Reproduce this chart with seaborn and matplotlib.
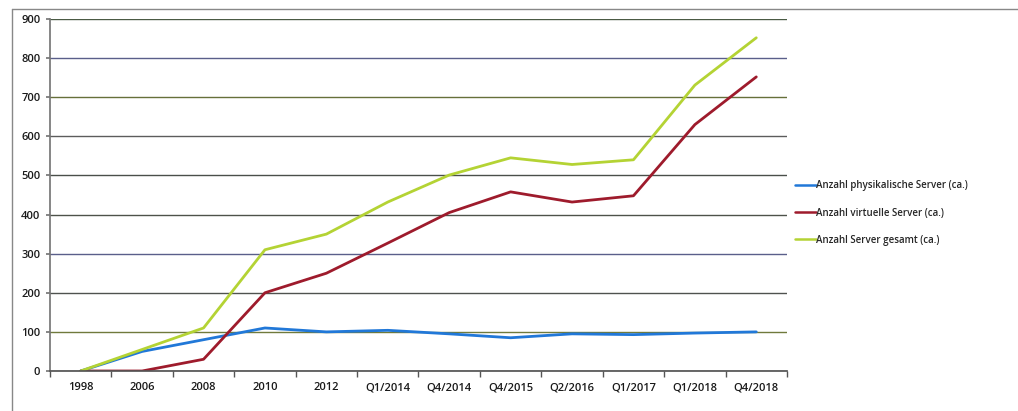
import matplotlib
matplotlib.use("Agg")
import matplotlib.pyplot as plt
from matplotlib.lines import Line2D
import seaborn as sns
import pandas as pd

periods = ["1998", "2006", "2008", "2010", "2012", "Q1/2014", "Q4/2014",
           "Q4/2015", "Q2/2016", "Q1/2017", "Q1/2018", "Q4/2018"]
physical = [0, 50, 80, 110, 100, 104, 95, 85, 95, 93, 97, 100]
virtual = [0, 0, 30, 200, 250, 327, 405, 458, 432, 448, 630, 752]
total = [0, 55, 110, 310, 350, 432, 501, 545, 528, 540, 731, 852]

series_names = ["Anzahl physikalische Server (ca.)",
                "Anzahl virtuelle Server (ca.)",
                "Anzahl Server gesamt (ca.)"]
series_colors = ["#2178d8", "#9e1b2c", "#b4d334"]

df = pd.concat([
    pd.DataFrame({"Zeitpunkt": periods, "Anzahl": vals, "Reihe": name})
    for name, vals in zip(series_names, [physical, virtual, total])
], ignore_index=True)

sns.set_theme(style="white")
plt.rcParams["font.family"] = ["Open Sans", "DejaVu Sans"]

fig = plt.figure(figsize=(10.18, 4.11), dpi=100)
ax = fig.add_axes([50 / 1018, 40 / 411, 737 / 1018, 352 / 411])

sns.lineplot(data=df, x="Zeitpunkt", y="Anzahl", hue="Reihe",
             palette=dict(zip(series_names, series_colors)),
             linewidth=2.0, sort=False, legend=False, ax=ax)

ax.set_xlim(-0.5, len(periods) - 0.5)
ax.set_ylim(0, 900)
ax.set_yticks(range(0, 901, 100))
ax.set_xlabel("")
ax.set_ylabel("")

# horizontal gridlines in slightly varying tones
grid_tones = ["#4a5a44", "#5a5f8a", "#66703a", "#5c5c5c", "#4a4f4a",
              "#4d524a", "#5a5f8a", "#4f524f", "#707a3c"]
for v, c in zip(range(100, 901, 100), grid_tones[::-1]):
    ax.axhline(v, color=c, linewidth=1.0, zorder=0)
ax.axhline(0, color="#555555", linewidth=1.0, zorder=0)

for s in ["top", "right"]:
    ax.spines[s].set_visible(False)
ax.spines["left"].set_color("#777777")
ax.spines["bottom"].set_color("#555555")

ax.set_xticks(range(len(periods)))
ax.set_xticklabels(periods)
ax.set_xticks([i - 0.5 for i in range(len(periods) + 1)], minor=True)
ax.tick_params(axis="x", which="major", length=0, pad=8, labelsize=8,
               labelcolor="#1a1a1a")
ax.tick_params(axis="x", which="minor", length=4, color="#555555",
               direction="out", bottom=True)
ax.tick_params(axis="y", which="major", length=3, color="#777777",
               labelsize=8, labelcolor="#1a1a1a", pad=4, left=True)
for lab in ax.get_xticklabels() + ax.get_yticklabels():
    lab.set_fontweight("semibold")

handles = [Line2D([0], [0], color=c, linewidth=1.8) for c in series_colors]
fig.legend(handles, series_names, loc="center left",
           bbox_to_anchor=(786 / 1018, 1 - 213 / 411), frameon=False,
           handlelength=2.2, handletextpad=0.0,
           labelspacing=1.65, prop={"weight": "semibold", "size": 7})

# chart frame
fig.add_artist(Line2D([12 / 1018, 1.0], [1 - 9 / 411, 1 - 9 / 411],
                      transform=fig.transFigure, color="#888888", linewidth=1))
fig.add_artist(Line2D([12 / 1018, 12 / 1018], [0.0, 1 - 9 / 411],
                      transform=fig.transFigure, color="#888888", linewidth=1))

fig.savefig("out.png", dpi=100)
